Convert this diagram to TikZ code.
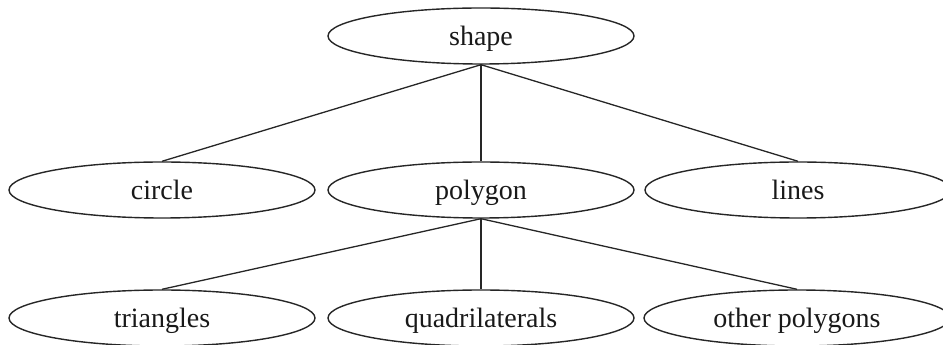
\documentclass[tikz,border=0pt]{standalone}
\usepackage{fontspec}
\setmainfont{Liberation Serif}
\usetikzlibrary{shapes.geometric}
\begin{document}
\begin{tikzpicture}[x=1pt,y=1pt,
  nd/.style={ellipse, draw=black!85, line width=1.4pt, minimum width=306pt, minimum height=56pt, inner sep=0pt,
    text height=25pt, text depth=5pt,
    font=\fontsize{28}{34}\selectfont, text=black!90},
  edge/.style={draw=black!85, line width=1.3pt}]
\useasboundingbox (0,0) rectangle (943,345);
\node[nd] (shape) at (481,309) {shape};
\node[nd] (circle) at (162,155) {circle};
\node[nd] (polygon) at (481,155) {polygon};
\node[nd] (lines) at (798,155) {lines};
\node[nd] (tri) at (162,27) {triangles};
\node[nd] (quad) at (481,27) {quadrilaterals};
\node[nd] (other) at (797,27) {other polygons};
\draw[edge] (shape.south) -- (circle.north);
\draw[edge] (shape.south) -- (polygon.north);
\draw[edge] (shape.south) -- (lines.north);
\draw[edge] (polygon.south) -- (tri.north);
\draw[edge] (polygon.south) -- (quad.north);
\draw[edge] (polygon.south) -- (other.north);
\end{tikzpicture}
\end{document}
